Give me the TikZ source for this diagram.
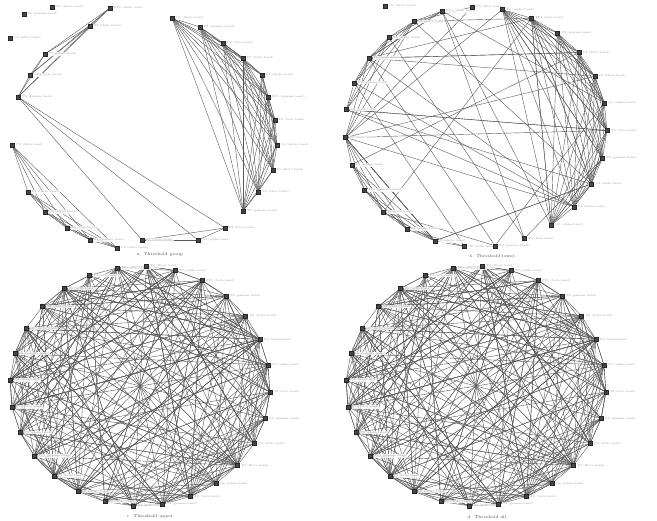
\documentclass[tikz,border=0pt]{standalone}
\usetikzlibrary{backgrounds}
\pgfdeclarelayer{lab}
\pgfsetlayers{background,lab,main}
\newcommand\labtext[1]{\ifcase#1\or FP1 (delta band)\or F3 (theta band)\or F7 (alpha band)\or FP2 (beta band)\or T3 (gamma band)\or C3 (delta band)\or P3 (theta band)\or O1 (alpha band)\or T5 (beta band)\or F4 (gamma band)\or C4 (delta band)\or P4 (theta band)\or O2 (alpha band)\or F8 (beta band)\or T4 (gamma band)\or T6 (delta band)\or Fz (theta band)\or Cz (alpha band)\or Pz (beta band)\or FP1 (gamma band)\or F3 (alpha band)\or F7 (delta band)\or C3 (beta band)\or P3 (gamma band)\or O1 (theta band)\or T3 (alpha band)\or T5 (delta band)\or F4 (beta band)\else Oz (theta band)\fi}
\tikzset{
  nd/.style={rectangle, minimum size=4pt, inner sep=0pt, fill=gray!55!black, draw=gray!30!black, line width=0.25pt},
  lbl/.style={anchor=west, font=\fontsize{2.8}{3}\selectfont, text=gray!85, inner sep=0.4pt, fill=white, fill opacity=0.8, text opacity=1},
  edge/.style={draw=gray!70!black, line width=0.4pt},
  captxtstyle/.style={font=\fontsize{4}{4}\selectfont, text=gray!50!black}
}
\begin{document}
\begin{tikzpicture}[x=1pt,y=-1pt]
\useasboundingbox (0,0) rectangle (657,521);
% ---------- panel a ----------
\foreach \k/\x/\y in {1/110/8, 2/90/26, 3/45/54, 4/30/75, 5/18/97,
  6/12/145, 7/28/192, 8/45/212, 9/67/228, 10/90/240, 11/117/248,
  12/142/240, 13/198/240, 14/225/228,
  15/243/211, 16/258/192, 17/273/170, 18/277/145, 19/275/120, 20/268/97,
  21/262/75, 22/243/58, 23/223/43, 24/200/27, 25/172/18}{
  \node[nd] (a\k) at (\x,\y) {};
  \begin{pgfonlayer}{lab}
  \node[lbl] (la\k) at ([xshift=1.5pt]a\k.east) {\labtext{\k}};
  \end{pgfonlayer}
}
\node[nd] (ai1) at (52,7) {};
\node[nd] (ai2) at (24,14) {};
\node[nd] (ai3) at (10,38) {};
\begin{pgfonlayer}{lab}
\node[lbl] (lai1) at ([xshift=1.5pt]ai1.east) {Oz (theta band)};
\node[lbl] (lai2) at ([xshift=1.5pt]ai2.east) {Fz (gamma band)};
\node[lbl] (lai3) at ([xshift=1.5pt]ai3.east) {Cz (delta band)};
\end{pgfonlayer}
\begin{pgfonlayer}{background}
\foreach \lo/\hi in {1/5, 6/11, 12/14, 15/25}{
  \foreach \i in {\lo,...,\hi}{
    \foreach \j in {\i,...,\hi}{
      \ifnum\i<\j\relax \draw[edge] (a\i) -- (a\j);\fi
    }
  }
}
\foreach \j in {12,13,14}{\draw[edge] (a5) -- (a\j);}
\end{pgfonlayer}
\node[captxtstyle] (capa) at (160,255) {a. Threshold group};
% ---------- panel b ----------
\foreach \k in {1,...,27}{
  \pgfmathsetmacro\ang{105-(\k-1)*360/27}
  \pgfmathsetmacro\xx{476+131*cos(\ang)}
  \pgfmathsetmacro\yy{127-120*sin(\ang)}
  \node[nd] (b\k) at (\xx,\yy) {};
  \begin{pgfonlayer}{lab}
  \node[lbl] (lb\k) at ([xshift=1.5pt]b\k.east) {\labtext{\k}};
  \end{pgfonlayer}
}
\node[nd] (bi) at (385,6) {};
\begin{pgfonlayer}{lab}
\node[lbl] (lbi) at ([xshift=1.5pt]bi.east) {Oz (theta band)};
\end{pgfonlayer}
\begin{pgfonlayer}{background}
\foreach \lo/\hi in {3/13, 17/22, 23/27}{
  \foreach \i in {\lo,...,\hi}{
    \foreach \j in {\i,...,\hi}{
      \ifnum\i<\j\relax \draw[edge] (b\i) -- (b\j);\fi
    }
  }
}
\foreach \j in {25,26,27}{\draw[edge] (b1) -- (b\j);}
\pgfmathsetseed{5}
\foreach \r in {1,...,55}{
  \pgfmathrandominteger{\i}{1}{27}
  \pgfmathrandominteger{\j}{1}{27}
  \ifnum\i=\j\relax\else \draw[edge] (b\i) -- (b\j);\fi
}
\end{pgfonlayer}
\node[captxtstyle] (capb) at (492,256) {b. Threshold lower};
% ---------- panels c and d ----------
\foreach \p/\cx/\capx/\captxt in {c/140/150/{c. Threshold upper}, d/476/487/{d. Threshold all}}{
  \foreach \k in {1,...,28}{
    \pgfmathsetmacro\ang{100-(\k-1)*360/28}
    \pgfmathsetmacro\xx{\cx+130*cos(\ang)}
    \pgfmathsetmacro\yy{386-120*sin(\ang)}
    \node[nd] (\p\k) at (\xx,\yy) {};
    \begin{pgfonlayer}{lab}
    \node[lbl] (l\p\k) at ([xshift=1.5pt]\p\k.east) {\labtext{\k}};
    \end{pgfonlayer}
  }
  \begin{pgfonlayer}{background}
  \pgfmathsetseed{11}
  \foreach \r in {1,...,290}{
    \pgfmathrandominteger{\i}{1}{28}
    \pgfmathrandominteger{\j}{1}{28}
    \ifnum\i=\j\relax\else \draw[edge] (\p\i) -- (\p\j);\fi
  }
  \foreach \k in {1,...,27}{
    \pgfmathtruncatemacro\n{\k+1}
    \draw[edge] (\p\k) -- (\p\n);
  }
  \draw[edge] (\p28) -- (\p1);
  \end{pgfonlayer}
  \node[captxtstyle] (cap\p) at (\capx,517) {\captxt};
}
\end{tikzpicture}
\end{document}
